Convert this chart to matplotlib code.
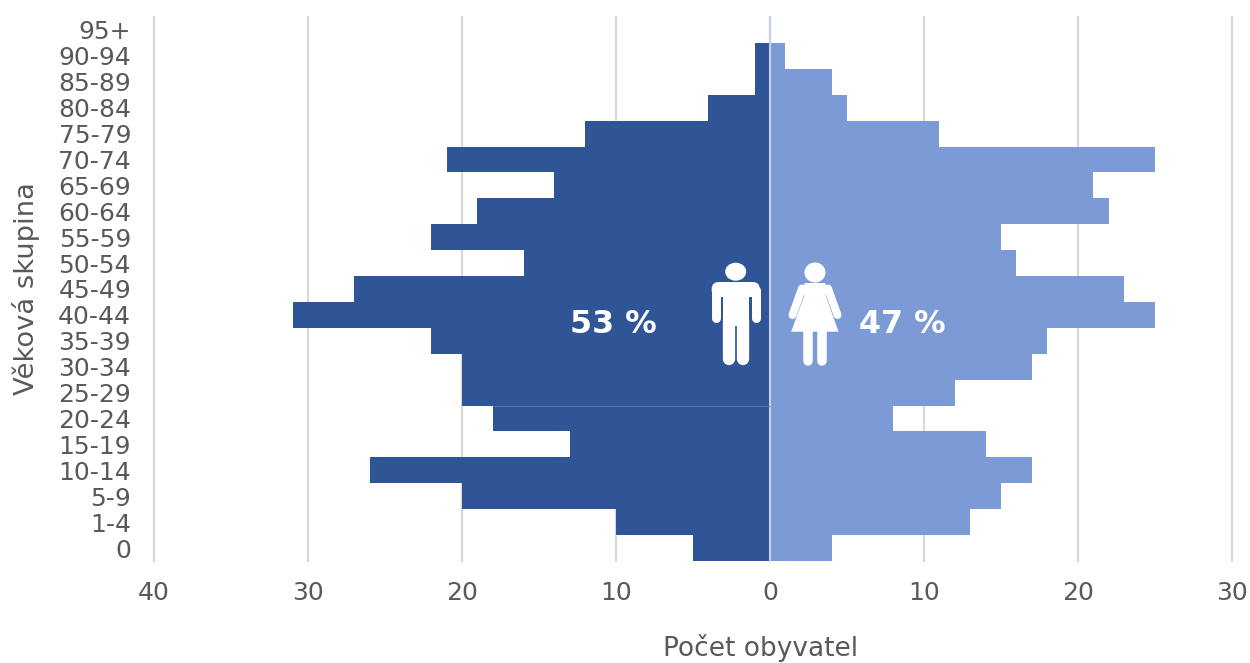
import matplotlib
matplotlib.use("Agg")
import matplotlib.pyplot as plt
from matplotlib.patches import Ellipse, Polygon, FancyBboxPatch
import numpy as np

W, H = 1250, 663

age_groups = ["0", "1-4", "5-9", "10-14", "15-19", "20-24", "25-29", "30-34", "35-39", "40-44",
              "45-49", "50-54", "55-59", "60-64", "65-69", "70-74", "75-79", "80-84", "85-89",
              "90-94", "95+"]
men = [5, 10, 20, 26, 13, 18, 20, 20, 22, 31, 27, 16, 22, 19, 14, 21, 12, 4, 1, 1, 0]
women = [4, 13, 15, 17, 14, 8, 12, 17, 18, 25, 23, 16, 15, 22, 21, 25, 11, 5, 4, 1, 0]
x_ticks = [-40, -30, -20, -10, 0, 10, 20, 30]

DARK = "#2F5597"
LIGHT = "#7C9BD6"
GREY = "#595959"

fig = plt.figure(figsize=(W / 100, H / 100), dpi=100)
plt.rcParams["font.family"] = "DejaVu Sans"

# plot area in pixels: x 154-1232, y 17-561
ax = fig.add_axes([154 / W, 1 - 561 / H, (1232 - 154) / W, (561 - 17) / H])
y = np.arange(len(age_groups))
ax.barh(y, -np.array(men), height=1.0, color=DARK, linewidth=0, zorder=2)
ax.barh(y, women, height=1.0, color=LIGHT, linewidth=0, zorder=2)
ax.axvline(0, color="#C3CFE5", lw=1.5, zorder=3)
# faint seam between the 20-24 and 25-29 bars
ax.hlines(5.5, -men[5], 0, color="#5F7FB8", lw=0.6, zorder=3)

ax.set_xlim(-40, 30)
ax.set_ylim(-0.5, len(age_groups) - 0.5)
ax.set_xticks(x_ticks)
ax.set_xticklabels([str(abs(t)) for t in x_ticks])
ax.set_yticks(y)
ax.set_yticklabels(age_groups, va="center_baseline")
ax.tick_params(axis="both", length=0, labelsize=18, labelcolor=GREY)
ax.tick_params(axis="x", pad=14.5)
ax.tick_params(axis="y", pad=16.5)
ax.grid(axis="x", color="#D9D9D9", lw=1.6, zorder=0, clip_on=False)
ax.set_axisbelow(True)
for s in ax.spines.values():
    s.set_visible(False)

# baseline kept high enough that the descenders stay on the canvas
fig.text(761 / W, 1 - 656 / H, "Počet obyvatel", ha="center", va="baseline", fontsize=19, color=GREY)
fig.text(26 / W, 1 - 289 / H, "Věková skupina", ha="center", va="center", rotation=90, fontsize=19.7, color=GREY)

# overlay in pixel coordinates for the icons and percentages
ov = fig.add_axes([0, 0, 1, 1], facecolor="none")
ov.set_xlim(0, W)
ov.set_ylim(H, 0)
ov.axis("off")
ov.text(613.5, 324.5, "53 %", color="white", fontweight="bold", fontsize=22.8, ha="center", va="center")
ov.text(902.5, 324.5, "47 %", color="white", fontweight="bold", fontsize=22.8, ha="center", va="center")


def limb(x0, y0, x1, y1, width):
    ov.plot([x0, x1], [y0, y1], color="white", lw=width * 0.72, solid_capstyle="round")


# man
ov.add_patch(Ellipse((735.7, 271.7), 21, 18, color="white", lw=0))
ov.add_patch(FancyBboxPatch((718.7, 289), 34, 1, boxstyle="round,pad=7", color="white", lw=0))
ov.add_patch(Polygon([(722.7, 290), (749.3, 290), (749.3, 326), (722.7, 326)], color="white", lw=0))
limb(716.2, 290, 716.2, 318, 9)
limb(755.5, 290, 755.5, 318, 9)
limb(729, 320, 729, 359, 12.3)
limb(743, 320, 743, 359, 12.3)

# woman
ov.add_patch(Ellipse((815, 272.5), 21, 20, color="white", lw=0))
ov.add_patch(Polygon([(805, 283), (825, 283), (830, 293), (825.5, 295), (838.5, 331.7),
                      (791.2, 331.7), (804.5, 295), (800, 293)], color="white", lw=0))
limb(802, 288.5, 792.5, 315, 8)
limb(828, 288.5, 837.5, 315, 8)
limb(808, 328, 808, 360.5, 9.5)
limb(821.7, 328, 821.7, 360.5, 9.5)

fig.savefig("out.png", dpi=100)
